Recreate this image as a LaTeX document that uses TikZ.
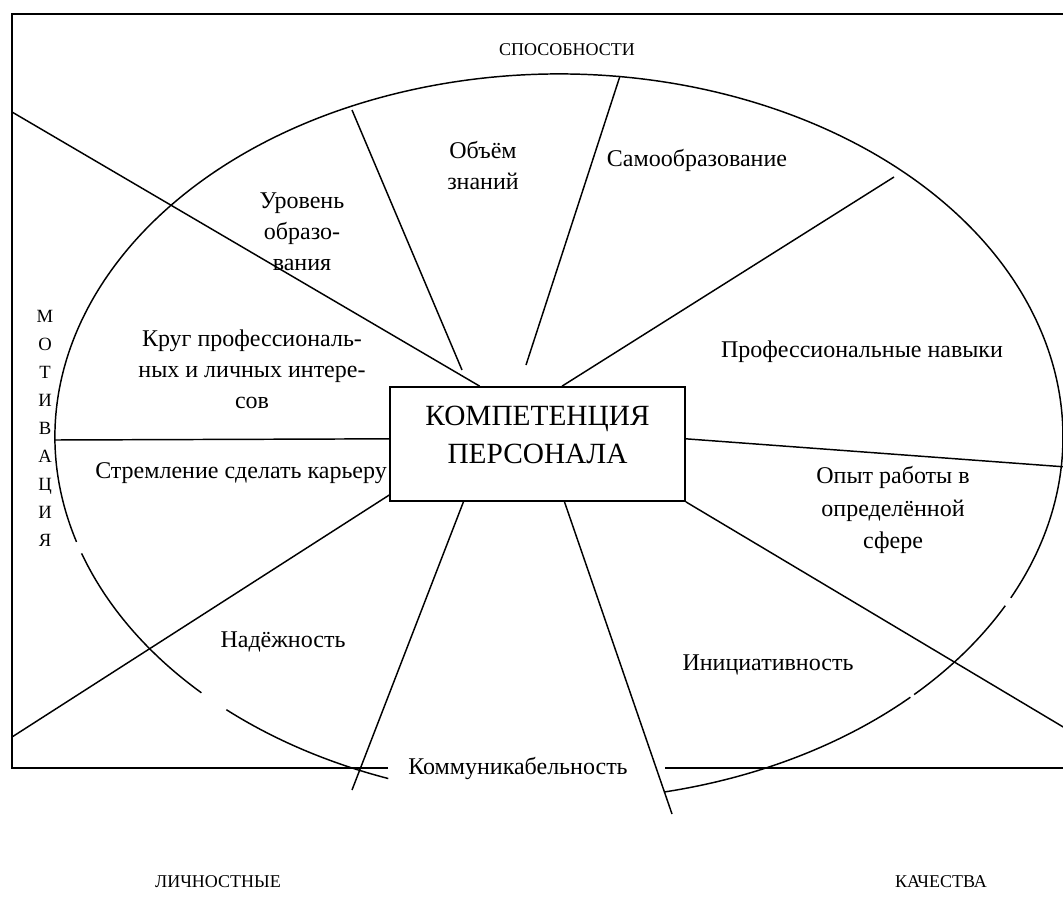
\documentclass[tikz,border=0pt]{standalone}
\usepackage{fontspec}
\setmainfont{Liberation Serif}

\begin{document}
\begin{tikzpicture}[x=0.75pt,y=-0.75pt,
  ln/.style={line width=1.1pt},
  lbl/.style={align=center,font=\fontsize{18}{23.25}\selectfont},
  sidetxt/.style={font=\fontsize{13.5}{16}\selectfont},
  compbox/.style={draw,line width=1.3pt,minimum width=221.25pt,minimum height=85.5pt,inner sep=0pt}]
\clip (0,0) rectangle (1063,917);
\draw[line width=1.4pt] (388,768)--(12,768)--(12,14)--(1080,14)--(1080,768)--(665,768);
\coordinate (ctr) at (559,437);
\foreach \a/\b in {109.8/131.3, 135.2/161.3, 163.2/386.3, 387.7/405.2, 405.8/437.9}
  \draw[ln] (ctr) ++(\a:504 and 363) arc[start angle=\a,end angle=\b,x radius=504,y radius=363];
\node[compbox] (comp) at (537.5,444) {};
\node[align=center,font=\fontsize{22}{28.5}\selectfont] (comptxt) at (537.5,434.5) {КОМПЕТЕНЦИЯ\\ПЕРСОНАЛА};
\coordinate (o1) at (12,112);
\coordinate (o2a) at (352,110);
\coordinate (o2b) at (462,370);
\coordinate (o3a) at (620,76);
\coordinate (o3b) at (526,365);
\coordinate (o4) at (894,177);
\coordinate (o5) at (1080,468);
\coordinate (o6) at (1080,737);
\coordinate (o7) at (672,814);
\coordinate (o8) at (352,790);
\coordinate (o9) at (12,737);
\coordinate (o10) at (55,440);
\draw[ln] (comp.135)--(o1);
\draw[ln] (o2a)--(o2b);
\draw[ln] (o3a)--(o3b);
\draw[ln] (comp.67.6)--(o4);
\draw[ln] (comp.2)--(o5);
\draw[ln] (comp.south east)--(o6);
\draw[ln] (comp.-65)--(o7);
\draw[ln] (comp.-142.2)--(o8);
\draw[ln] (comp.-161.3)--(o9);
\draw[ln] (comp.178.5)--(o10);
\node[lbl] (obj) at (483,166) {Объём\\знаний};
\node[lbl] (samo) at (697,160) {Самообразование};
\node[lbl] (urov) at (302,232) {Уровень\\образо-\\вания};
\node[lbl] (krug) at (252,369) {Круг профессиональ-\\ных и личных интере-\\сов};
\node[lbl] (strem) at (241,473) {Стремление сделать карьеру};
\node[lbl] (navyk) at (862,352) {Профессиональные навыки};
\node[lbl,font=\fontsize{18}{24.4}\selectfont] (opyt) at (893,510) {Опыт работы в\\определённой\\сфере};
\node[lbl] (inic) at (768,665) {Инициативность};
\node[lbl] (nadez) at (283,642) {Надёжность};
\node[lbl] (komm) at (518,768) {Коммуникабельность};
\node[sidetxt] (sposob) at (567,50) {СПОСОБНОСТИ};
\node[sidetxt,align=center,font=\fontsize{14}{21}\selectfont] (motiv) at (45,428) {М\\О\\Т\\И\\В\\А\\Ц\\И\\Я};
\node[sidetxt] (lichn) at (218,882) {ЛИЧНОСТНЫЕ};
\node[sidetxt] (kach) at (941,882) {КАЧЕСТВА};
\end{tikzpicture}
\end{document}
